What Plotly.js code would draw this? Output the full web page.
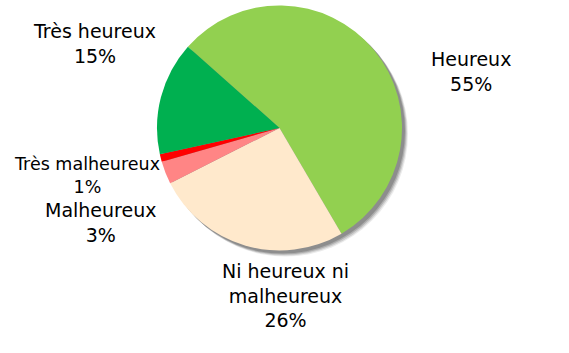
<!DOCTYPE html>
<html>
<head>
<meta charset="utf-8">
<script src="https://cdn.plot.ly/plotly-3.0.1.min.js"></script>
<style>html,body{margin:0;padding:0;background:#fff;}#chart{width:569px;height:353px;}</style>
</head>
<body>
<div id="chart"></div>
<script>
const categories = ["Heureux", "Ni heureux ni malheureux", "Malheureux", "Très malheureux", "Très heureux"];
const values = [55, 26, 3, 1, 15];
const labelLines = ["Heureux", "Ni heureux ni<br>malheureux", "Malheureux", "Très malheureux", "Très heureux"];
const colors = ["#92D050", "#FFE9CC", "#FF8585", "#FF0000", "#00B050"];

const W = 569, H = 353;
const cx = 279.5, cy = 128, r = 122.5;
function dom(dx, dy) {
  return {
    x: [(cx - r + dx) / W, (cx + r + dx) / W],
    y: [1 - (cy + r + dy) / H, 1 - (cy - r + dy) / H]
  };
}
const total = values.reduce((a, b) => a + b, 0);

const shadowSpecs = [[6, 6, 0.08], [5, 5, 0.12], [4, 4, 0.16], [3, 3, 0.18]];
const traces = shadowSpecs.map(s => ({
  type: "pie",
  values: [total],
  labels: ["shadow"],
  domain: dom(s[0], s[1]),
  marker: { colors: ["rgba(0,0,0," + s[2] + ")"], line: { width: 0 } },
  textinfo: "none",
  hoverinfo: "skip",
  showlegend: false,
  sort: false
}));

traces.push({
  type: "pie",
  values: values,
  labels: categories,
  domain: dom(0, 0),
  sort: false,
  direction: "clockwise",
  rotation: -48.4,
  marker: { colors: colors, line: { width: 0 } },
  textinfo: "none",
  showlegend: false
});

// label positions (pixel centres of the label blocks) and font sizes
const labelPos = [
  [471, 71],
  [285, 295],
  [100, 222],
  [87, 176],
  [94, 43]
];
const labelSize = [19, 19, 19, 17.5, 19];
const annotations = categories.map((c, i) => ({
  xref: "paper", yref: "paper",
  x: labelPos[i][0] / W, y: 1 - labelPos[i][1] / H,
  xanchor: "center", yanchor: "middle",
  showarrow: false,
  align: "center",
  text: labelLines[i] + "<br>" + values[i] + "%",
  font: { family: "DejaVu Sans, Verdana, sans-serif", size: labelSize[i], color: "#000" }
}));

const layout = {
  width: W, height: H,
  margin: { l: 0, r: 0, t: 0, b: 0 },
  paper_bgcolor: "#fff",
  plot_bgcolor: "#fff",
  showlegend: false,
  annotations: annotations
};
Plotly.newPlot("chart", traces, layout, { displayModeBar: false, staticPlot: true });
</script>
</body>
</html>
